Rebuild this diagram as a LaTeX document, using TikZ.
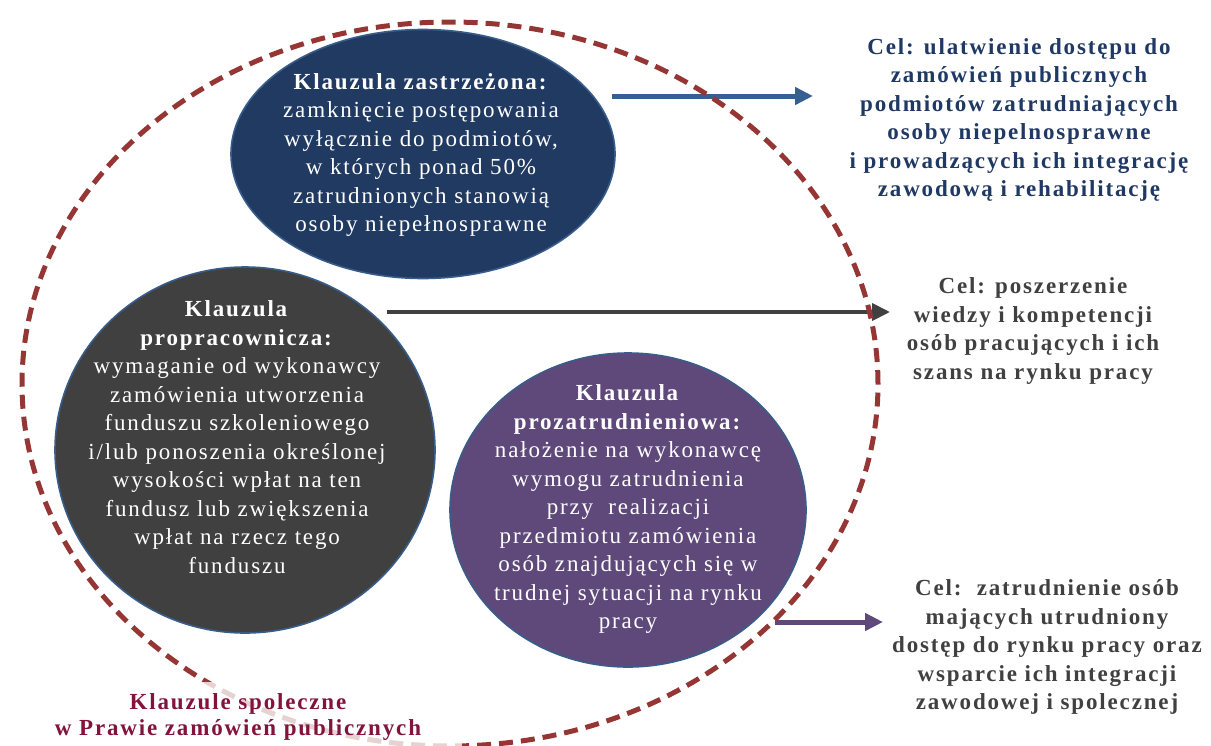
\documentclass[tikz,border=0pt]{standalone}
\usepackage{fontspec}
\setmainfont{Liberation Serif}
\newfontfamily\spaced[LetterSpace=8]{Liberation Serif}
\usetikzlibrary{shapes.geometric,arrows.meta}
\definecolor{navyfill}{RGB}{32,58,98}
\definecolor{navytext}{RGB}{31,56,100}
\definecolor{bluearrow}{RGB}{55,96,146}
\definecolor{darkfill}{RGB}{64,64,64}
\definecolor{purplefill}{RGB}{95,73,122}
\definecolor{outl}{RGB}{56,93,138}
\definecolor{dashc}{RGB}{150,54,52}
\definecolor{labelc}{RGB}{130,20,60}
\definecolor{graytext}{RGB}{64,64,64}
\begin{document}
\begin{tikzpicture}[x=1pt,y=-1pt,
  circ/.style={ellipse, draw=outl, line width=1.6pt, inner sep=0pt},
  ctext/.style={text=white, align=center, inner sep=0pt,
    font=\spaced\fontsize{23}{28.5}\selectfont},
  celtext/.style={align=center, inner sep=0pt,
    font=\spaced\bfseries\fontsize{23}{28.5}\selectfont},
  arr/.style={line width=5pt, -{Triangle[length=18pt,width=17pt]}},
  outerring/.style={ellipse, draw=dashc, line width=5pt, dash pattern=on 14pt off 8pt, inner sep=0pt}
]
\useasboundingbox (0,0) rectangle (1211,745);

% clause shapes
\node[circ, fill=navyfill, minimum width=384pt, minimum height=249pt] (blue) at (423,154) {};
\node[circ, fill=darkfill, minimum width=380pt, minimum height=366pt] (dark) at (245,450) {};
\node[circ, fill=purplefill, minimum width=356pt, minimum height=314pt] (purple) at (628,510) {};

\node[ctext] (blueT) at (421,155) {\textbf{Klauzula zastrzeżona:}\\zamknięcie postępowania\\wyłącznie do podmiotów,\\w których ponad 50\%\\zatrudnionych stanowią\\osoby niepełnosprawne};
\node[ctext] (darkT) at (237,437) {\textbf{Klauzula}\\\textbf{propracownicza:}\\wymaganie od wykonawcy\\zamówienia utworzenia\\funduszu szkoleniowego\\i/lub ponoszenia określonej\\wysokości wpłat na ten\\fundusz lub zwiększenia\\wpłat na rzecz tego\\funduszu};
\node[ctext] (purpleT) at (628,509) {\textbf{Klauzula}\\\textbf{prozatrudnieniowa:}\\nałożenie na wykonawcę\\wymogu zatrudnienia\\przy\ \ realizacji\\przedmiotu zamówienia\\osób znajdujących się w\\trudnej sytuacji na rynku\\pracy};

% goals
\node[celtext, text=navytext] (cel1) at (1019,120) {Cel: ulatwienie dostępu do\\zamówień publicznych\\podmiotów zatrudniających\\osoby niepelnosprawne\\i prowadzących ich integrację\\zawodową i rehabilitację};
\node[celtext, text=graytext] (cel2) at (1033,331) {Cel: poszerzenie\\wiedzy i kompetencji\\osób pracujących i ich\\szans na rynku pracy};
\node[celtext, text=graytext] (cel3) at (1047,647) {Cel:\ \ zatrudnienie osób\\mających utrudniony\\dostęp do rynku pracy oraz\\wsparcie ich integracji\\zawodowej i spolecznej};

% arrows
\coordinate (a1s) at (612,96);
\coordinate (a1e) at (813,96);
\coordinate (a2s) at (387,312);
\coordinate (a2e) at (890,312);
\coordinate (a3s) at (775,622);
\coordinate (a3e) at (883,622);
\draw[arr, draw=bluearrow, fill=bluearrow] (a1s) -- (a1e);
\draw[arr, line width=4pt, draw=darkfill, fill=darkfill] (a2s) -- (a2e);
\draw[arr, draw=purplefill, fill=purplefill] (a3s) -- (a3e);

% outer dashed ring
\node[outerring, minimum width=856pt, minimum height=724pt] (outer) at (450,384) {};

% label
\node[fill=white, fill opacity=0.78, minimum width=456pt, minimum height=64pt, inner sep=0pt] (labelbox) at (234,714) {};
\node[celtext, text=labelc, font=\spaced\bfseries\fontsize{23}{26}\selectfont] (label) at (238,717) {Klauzule spoleczne\\w Prawie zamówień publicznych};
\end{tikzpicture}
\end{document}
